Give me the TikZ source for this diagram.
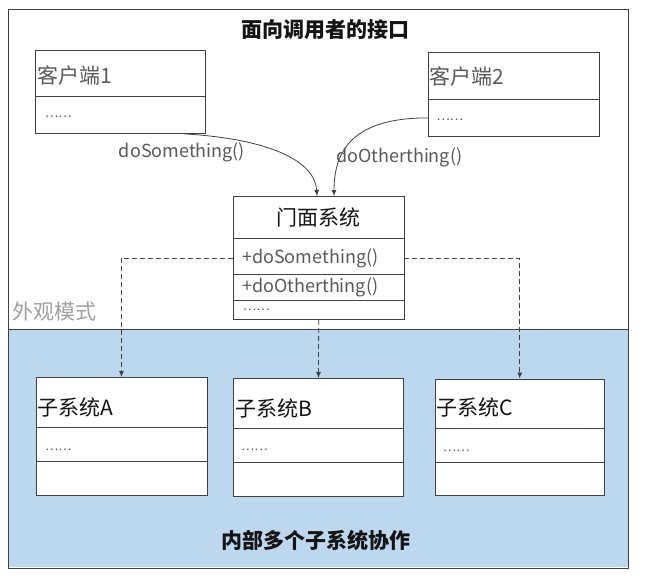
\documentclass[tikz,border=0pt]{standalone}
\usepackage{fontspec}
\setmainfont{Noto Sans CJK SC}
\usetikzlibrary{arrows.meta,calc}
\definecolor{panelblue}{RGB}{189,215,238}
\definecolor{txtgrey}{RGB}{89,89,89}
\definecolor{lightgrey}{RGB}{160,160,160}
\definecolor{edge}{RGB}{64,64,64}
\definecolor{darktxt}{RGB}{20,20,20}
\begin{document}
\begin{tikzpicture}[x=1pt,y=-1pt,
  umlbox/.style={draw=edge,line width=0.9pt,fill=white,rectangle,inner sep=0pt,anchor=north west},
  divider/.style={draw=edge,line width=0.8pt},
  cjktxt/.style={font=\fontsize{21}{25}\selectfont,inner sep=0pt},
  boldtxt/.style={font=\bfseries\fontsize{21}{25}\selectfont,inner sep=0pt,text=darktxt},
  latin/.style={font=\fontsize{18}{22}\selectfont,inner sep=0pt,text=txtgrey},
  dots/.style={font=\fontsize{12.5}{14}\selectfont,inner sep=0pt,text=txtgrey,anchor=west},
  call/.style={draw=edge,line width=0.8pt,-{Latex[length=6pt,width=5pt]}},
  delegate/.style={draw=edge,line width=0.8pt,dash pattern=on 5pt off 3pt,-{Latex[length=6pt,width=5pt]}},
]
\useasboundingbox (0,0) rectangle (655,580);
\fill[white] (0,0) rectangle (655,580);
\fill[panelblue] (7.5,329) rectangle (628,567);
\node[draw=edge,line width=0.9pt,rectangle,inner sep=0pt,anchor=north west,minimum width=620.5pt,minimum height=558pt] (frame) at (7.5,9.5) {};
\coordinate (split) at (0,329);
\draw[divider] (frame.west |- split) -- (frame.east |- split);

% titles
\node[boldtxt] (title) at (325,30) {面向调用者的接口};
\node[boldtxt] (bottom) at (316,540) {内部多个子系统协作};
\node[cjktxt,text=lightgrey,anchor=west] (mode) at (12,312) {外观模式};

% boxes
\node[umlbox,minimum width=170pt,minimum height=83pt] (c1) at (34.5,50) {};
\node[umlbox,minimum width=171pt,minimum height=84pt] (c2) at (427.5,52) {};
\node[umlbox,minimum width=170.5pt,minimum height=123pt] (fac) at (233,196) {};
\node[umlbox,minimum width=171pt,minimum height=117.5pt] (sA) at (35.5,377) {};
\node[umlbox,minimum width=170pt,minimum height=118pt] (sB) at (233,378) {};
\node[umlbox,minimum width=169.5pt,minimum height=116.5pt] (sC) at (434.5,378.5) {};

% dividers
\draw[divider] ($(c1.north west)+(0,46)$) -- ($(c1.north east)+(0,46)$);
\draw[divider] ($(c2.north west)+(0,47)$) -- ($(c2.north east)+(0,47)$);
\draw[divider] ($(fac.north west)+(0,42)$) -- ($(fac.north east)+(0,42)$);
\draw[divider] ($(fac.north west)+(0,78.5)$) -- ($(fac.north east)+(0,78.5)$);
\draw[divider] ($(fac.north west)+(0,104)$) -- ($(fac.north east)+(0,104)$);
\draw[divider] ($(sA.north west)+(0,50.5)$) -- ($(sA.north east)+(0,50.5)$);
\draw[divider] ($(sA.north west)+(0,84.5)$) -- ($(sA.north east)+(0,84.5)$);
\draw[divider] ($(sB.north west)+(0,50)$) -- ($(sB.north east)+(0,50)$);
\draw[divider] ($(sB.north west)+(0,84)$) -- ($(sB.north east)+(0,84)$);
\draw[divider] ($(sC.north west)+(0,50)$) -- ($(sC.north east)+(0,50)$);
\draw[divider] ($(sC.north west)+(0,84)$) -- ($(sC.north east)+(0,84)$);

% box texts
\node[cjktxt,text=txtgrey,anchor=west] (c1name) at (37.5,75) {客户端1};
\node[dots] (c1dots) at (45,117) {……};
\node[cjktxt,text=txtgrey,anchor=west] (c2name) at (429,76) {客户端2};
\node[dots] (c2dots) at (436.5,120) {……};
\node[cjktxt,text=darktxt] (facname) at (318,217) {门面系统};
\node[latin,anchor=west] (m1) at (242,258) {+doSomething()};
\node[latin,anchor=west] (m2) at (242,287.5) {+doOtherthing()};
\node[dots] (facdots) at (243,310) {……};
\node[cjktxt,text=darktxt,anchor=west] (sAname) at (37.5,407) {子系统A};
\node[dots] (sAdots) at (45,450) {……};
\node[cjktxt,text=darktxt,anchor=west] (sBname) at (235,408) {子系统B};
\node[dots] (sBdots) at (241,450) {……};
\node[cjktxt,text=darktxt,anchor=west] (sCname) at (436,407) {子系统C};
\node[dots] (sCdots) at (443,451) {……};

% calls
\coordinate (c1out) at ($(c1.south west)+(150,0)$);
\coordinate (fin1) at ($(fac.north west)+(84,0)$);
\coordinate (c2in) at ($(c2.south west)+(0,-19)$);
\coordinate (fin2) at ($(fac.north west)+(101,0)$);
\draw[call] (c1out) .. controls +(85,5) and +(-2,-35) .. (fin1);
\draw[call] (c2in) .. controls +(-75,0) and +(0,-45) .. (fin2);
\node[latin] (lab1) at (182,152) {doSomething()};
\node[latin,anchor=west] (lab2) at (336,157) {doOtherthing()};

% delegation
\draw[delegate] ($(fac.north west)+(0,62)$) -| (sA.north);
\draw[delegate] ($(fac.north east)+(0,62)$) -| (sC.north);
\draw[delegate] (fac.south) -- (sB.north);
\end{tikzpicture}
\end{document}
